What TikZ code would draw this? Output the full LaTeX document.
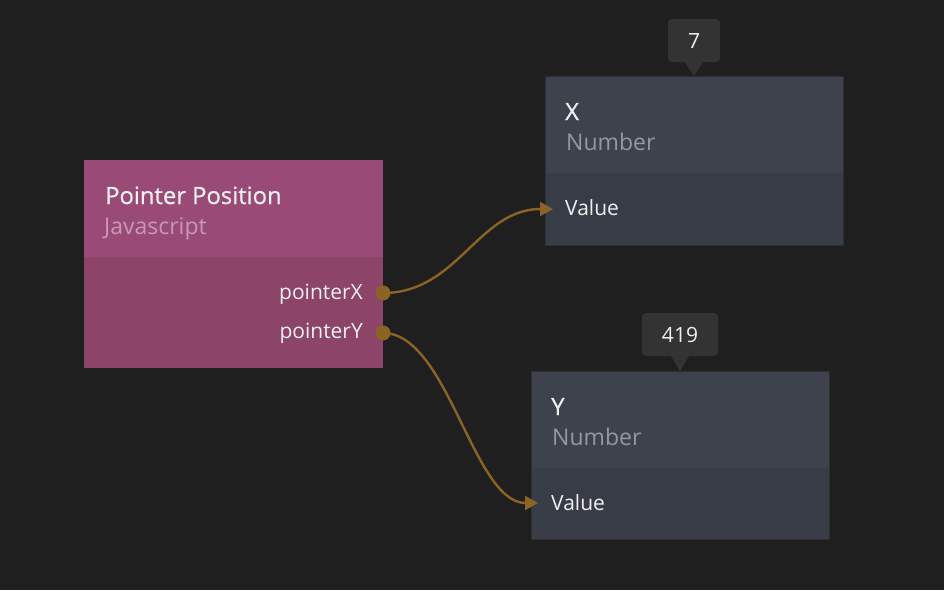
\documentclass[tikz,border=0pt]{standalone}
\usepackage{fontspec}
\setmainfont{Open Sans}
\newfontfamily\titlefont{Open Sans}[FakeBold=0.6]
\usetikzlibrary{arrows.meta,positioning}
\definecolor{canvas}{RGB}{31,31,31}
\definecolor{jshead}{RGB}{154,74,118}
\definecolor{jsbody}{RGB}{141,68,105}
\definecolor{jssub}{RGB}{202,152,180}
\definecolor{numhead}{RGB}{62,66,77}
\definecolor{numbody}{RGB}{56,60,70}
\definecolor{numedge}{RGB}{44,47,54}
\definecolor{numsub}{RGB}{150,152,160}
\definecolor{tipbg}{RGB}{51,51,51}
\definecolor{wire}{RGB}{139,99,36}
\newcommand{\namesize}{\fontsize{23.8}{28}\selectfont}
\newcommand{\headsize}{\fontsize{23}{27}\selectfont}
\newcommand{\portsize}{\fontsize{21}{25}\selectfont}

\begin{document}
\begin{tikzpicture}[x=1pt,y=-1pt,
  panel/.style={anchor=north west,inner sep=0,minimum width=298},
  title/.style={anchor=base west,inner sep=0,text=white!94!black,font=\titlefont\namesize},
  sub/.style={anchor=base west,inner sep=0,font=\headsize},
  port/.style={inner sep=0,text=white!94!black,font=\portsize},
  bubble/.style={fill=tipbg,rounded corners=4pt,inner sep=0,minimum height=43,text=white!94!black,font=\portsize},
  wirestyle/.style={draw=wire,line width=2.4pt,-{Triangle[length=13pt,width=14pt]}}]
  \fill[canvas] (0,0) rectangle (944,590);
  \useasboundingbox (0,0) rectangle (944,590);

  % javascript node
  \node[panel,fill=jshead,minimum width=299,minimum height=97] (jshd) at (84,160) {};
  \node[panel,fill=jsbody,minimum width=299,minimum height=111] (jsbd) at (84,257) {};
  \node[title] (jsname) at (105,204) {Pointer Position};
  \node[sub,text=jssub] (jstype) at (104,234) {Javascript};
  \node[port,anchor=base east] (outx) at (363,299) {pointerX};
  \node[port,anchor=base east] (outy) at (363,338) {pointerY};
  \coordinate (px) at (383,293);
  \coordinate (py) at (383,333);

  % number nodes
  \node[panel,fill=numhead,minimum height=97] (xhd) at (545,76) {};
  \node[panel,fill=numbody,minimum height=72] (xbd) at (545,173) {};
  \draw[numedge,line width=0.8pt] (xhd.north west) rectangle (xbd.south east);
  \node[title] (xname) at (565,120) {X};
  \node[sub,text=numsub] (xtype) at (566,150) {Number};
  \node[port,anchor=base west] (xval) at (565,215) {Value};
  \coordinate (xin) at (553,209);

  \node[panel,fill=numhead,minimum height=97] (yhd) at (531,371) {};
  \node[panel,fill=numbody,minimum height=71] (ybd) at (531,468) {};
  \draw[numedge,line width=0.8pt] (yhd.north west) rectangle (ybd.south east);
  \node[title] (yname) at (551,415) {Y};
  \node[sub,text=numsub] (ytype) at (552,445) {Number};
  \node[port,anchor=base west] (yval) at (551,510) {Value};
  \coordinate (yin) at (538,503);

  % value bubbles
  \node[bubble,minimum width=52] (xtip) at (694,40.5) {7};
  \fill[tipbg] ([xshift=-9pt]xtip.south) -- ([xshift=9pt]xtip.south) -- (xhd.north -| xtip.south) -- cycle;
  \node[bubble,minimum width=76] (ytip) at (680,334.5) {419};
  \fill[tipbg] ([xshift=-9pt]ytip.south) -- ([xshift=9pt]ytip.south) -- (yhd.north -| ytip.south) -- cycle;

  % connections
  \draw[wirestyle] (px) .. controls +(75,0) and +(-75,0) .. (xin);
  \draw[wirestyle] (py) .. controls +(65,0) and +(-65,0) .. (yin);
  \foreach \p in {px,py}
    \fill[wire] (\p) circle (7.5);
\end{tikzpicture}
\end{document}
